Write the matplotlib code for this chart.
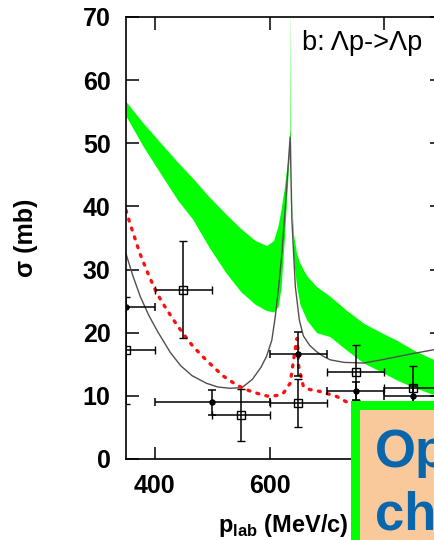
import matplotlib
matplotlib.use("Agg")
import matplotlib.pyplot as plt
from matplotlib.patches import Rectangle

plt.rcParams['font.family'] = ['Liberation Sans', 'DejaVu Sans']
plt.rcParams['mathtext.fontset'] = 'custom'
plt.rcParams['mathtext.rm'] = 'Liberation Sans'
plt.rcParams['mathtext.bf'] = 'Liberation Sans:bold'

# green uncertainty band (p_lab, lower, upper)
band_x = [350, 380, 408, 440, 466, 495, 524, 550, 575, 595, 607, 615, 620, 626, 633,
          635.5, 636, 636.5, 639, 642, 647, 653, 665, 682, 705, 735, 764, 795, 822,
          850, 880, 900]
band_lo = [54.3, 49.5, 45.5, 41.0, 38.0, 33.5, 29.5, 26.5, 24.5, 23.5, 23.3, 24.1, 27.0,
           35.0, 46.0, 50.0, 51.0, 50.0, 40.0, 31.5, 27.5, 24.5, 22.0, 20.0, 19.4, 17.2,
           15.2, 13.8, 12.5, 11.4, 10.4, 9.8]
band_hi = [56.6, 53.2, 50.3, 47.0, 44.5, 41.5, 38.8, 36.5, 34.6, 33.8, 34.6, 37.0, 39.5,
           43.1, 48.4, 52.0, 75.0, 52.0, 40.5, 35.5, 32.6, 31.0, 29.0, 27.3, 25.8, 23.5,
           21.5, 20.0, 18.8, 17.3, 16.0, 15.3]

# grey solid curve
line_x = [350, 362, 375, 390, 405, 427, 445, 465, 490, 510, 531, 552, 570, 585, 595,
          604, 610, 616, 621, 626, 631, 636, 639, 645, 652, 659, 670, 682, 695, 706,
          730, 764, 795, 822, 850, 880, 900]
line_y = [32.5, 29.0, 25.7, 22.7, 20.2, 16.9, 14.8, 13.2, 12.0, 11.4, 11.2, 11.3, 12.6,
          14.5, 16.3, 18.8, 22.5, 27.3, 32.0, 37.9, 44.5, 51.0, 37.9, 27.3, 22.0, 19.5,
          18.0, 17.0, 16.2, 15.7, 15.3, 15.2, 15.7, 16.2, 16.7, 17.2, 17.5]

# red dotted curve
dot_x = [350, 357, 374, 390, 404, 420, 433, 450, 467, 485, 502, 520, 543, 565, 589, 601,
         615, 624, 636, 643.6, 648, 649.5, 651, 659, 670, 688, 717, 741, 760, 790]
dot_y = [39.4, 37.3, 32.6, 29.0, 26.2, 23.8, 22.0, 19.8, 17.8, 16.1, 14.6, 13.1, 11.7,
         10.8, 10.1, 9.9, 10.1, 10.4, 12.0, 16.7, 19.1, 17.5, 14.6, 11.5, 11.0, 10.7,
         9.9, 8.7, 7.8, 6.8]

# open squares
sq_x = [350, 450, 550, 650, 750, 850]
sq_y = [17.2, 26.8, 7.0, 8.9, 13.7, 11.3]
sq_xerr = [50, 50, 50, 50, 50, 50]
sq_yerr = [8.5, 7.7, 4.1, 3.8, 4.4, 3.5]

# filled circles
ci_x = [350, 500, 650, 750, 850]
ci_y = [24.0, 9.0, 16.6, 10.8, 10.0]
ci_xerr = [50, 100, 50, 50, 50]
ci_yerr = [0, 2.0, 3.5, 1.4, 1.5]

fig = plt.figure(figsize=(4.34, 5.40), dpi=100)
ax = fig.add_axes([126 / 434, 81 / 540, 315.7 / 434, 442 / 540])

ax.fill_between(band_x, band_lo, band_hi, color='#00ff00', lw=0, zorder=1)
ax.plot(line_x, line_y, color='#505050', lw=1.0, zorder=2)
ax.plot(dot_x, dot_y, color='#ff1010', lw=2.4, ls=(0, (0.6, 2.2)),
        dash_capstyle='round', zorder=2)

ebkw = dict(ecolor='black', elinewidth=1.1, capsize=2.6, capthick=1.1, ls='none', zorder=3)
ax.errorbar(sq_x, sq_y, xerr=sq_xerr, yerr=sq_yerr, marker='s', ms=5.6,
            mfc='none', mec='black', mew=1.0, **ebkw)
ax.errorbar(ci_x, ci_y, xerr=ci_xerr, yerr=ci_yerr, marker='o', ms=3.6,
            mfc='black', mec='black', **ebkw)

ax.set_xlim(350, 900)
ax.set_ylim(0, 70)
ax.set_xticks([400, 600, 800])
ax.set_yticks(range(0, 71, 10))
ax.tick_params(direction='in', length=9, width=1.1, top=True, right=True,
               labelsize=18, pad=11)
for lab in ax.get_xticklabels() + ax.get_yticklabels():
    lab.set_fontweight('bold')
for sp in ax.spines.values():
    sp.set_linewidth(1.2)

ax.set_ylabel('σ (mb)', fontsize=18, fontweight='bold')
ax.yaxis.set_label_coords(-0.28, 0.5)
ax.set_xlabel(r'p$_{\mathbf{lab}}$ (MeV/c)', fontsize=17, fontweight='bold')
ax.xaxis.set_label_coords(0.5, -0.12)

ax.text(657, 64.8, 'b: Λp->Λp', fontsize=19.5, va='baseline', ha='left')

# slide overlay box in the lower right corner
fig.patches.append(Rectangle((350.7 / 434, -0.1), 0.5, (540 - 400.7) / 540 + 0.1,
                             transform=fig.transFigure, facecolor='#00ff00',
                             edgecolor='none', zorder=5))
fig.patches.append(Rectangle((360 / 434, -0.1), 0.5, (540 - 410) / 540 + 0.1,
                             transform=fig.transFigure, facecolor='#fac99b',
                             edgecolor='none', zorder=6))
fig.text(375 / 434, 1 - 467 / 540, 'Op', fontsize=38, fontweight='bold',
         color='#0866ad', va='baseline', ha='left', zorder=7)
fig.text(375 / 434, 1 - 530 / 540, 'ch', fontsize=38, fontweight='bold',
         color='#0866ad', va='baseline', ha='left', zorder=7)

fig.savefig('out.png', dpi=100)
